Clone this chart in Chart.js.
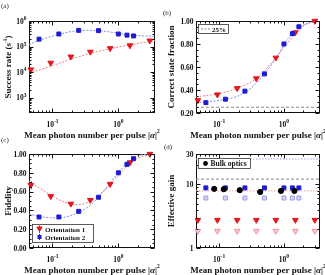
<!DOCTYPE html>
<html lang="en">
<head>
<meta charset="UTF-8">
<title>Photon number scan</title>
<script src="https://cdn.jsdelivr.net/npm/chart.js@4.4.1/dist/chart.umd.min.js"></script>
<style>
  body { margin: 0; background: #fff; }
  #fig { position: relative; width: 325px; height: 275px; overflow: hidden; }
  #fig canvas { position: absolute; }
  .tag { position: absolute; font: 7px "Liberation Serif", serif; line-height: 7px; color: #222; }
</style>
</head>
<body>
<div id="fig">
  <canvas id="pa" width="162" height="140" style="left:0;top:0"></canvas>
  <canvas id="pb" width="163" height="140" style="left:162px;top:0"></canvas>
  <canvas id="pc" width="162" height="135" style="left:0;top:140px"></canvas>
  <canvas id="pd" width="163" height="135" style="left:162px;top:140px"></canvas>
  <div class="tag" style="left:1px;top:3px">(a)</div>
  <div class="tag" style="left:163px;top:10px">(b)</div>
  <div class="tag" style="left:1px;top:137px">(c)</div>
  <div class="tag" style="left:164px;top:144px">(d)</div>
</div>
<script>
// mean photon number of each run
const xRed  = [0.047, 0.094, 0.19, 0.375, 0.75, 1.5, 3.0];
const xBlue = [0.0625, 0.125, 0.25, 0.5, 1.0, 1.35, 1.7];
const xBulk = [0.084, 0.118, 0.208, 0.43, 0.9, 1.45];

// (a) success rate (s^-1)
const rateRed  = [1.25e4, 2.3e4, 4.0e4, 6.2e4, 8.5e4, 1.1e5, 1.7e5];
const rateBlue = [1.95e5, 3.1e5, 4.3e5, 4.2e5, 3.1e5, 2.8e5, 2.6e5];
const rateRedFitX  = [0.044, 0.1, 0.2, 0.4, 0.8, 1.6, 3.6];
const rateRedFitY  = [9e3, 1.8e4, 3.3e4, 5.6e4, 8.5e4, 1.2e5, 1.75e5];
const rateBlueFitX = [0.044, 0.07, 0.12, 0.2, 0.35, 0.6, 1.0, 1.7, 3.6];
const rateBlueFitY = [1.2e5, 1.9e5, 2.9e5, 3.9e5, 4.3e5, 4.0e5, 3.3e5, 2.75e5, 2.5e5];

// (b) correct state fraction
const fracRed  = [0.31, 0.36, 0.415, 0.50, 0.68, 0.90, 1.00];
const fracBlue = [0.29, 0.32, 0.39, 0.54, 0.80, 0.89, 0.95];
const fracRedFitX  = [0.044, 0.1, 0.2, 0.375, 0.7, 1.0, 1.5, 2.2, 3.6];
const fracRedFitY  = [0.34, 0.37, 0.42, 0.50, 0.66, 0.77, 0.89, 0.97, 1.0];
const fracBlueFitX = [0.044, 0.1, 0.2, 0.3, 0.5, 0.8, 1.2, 1.8, 2.6, 3.6];
const fracBlueFitY = [0.29, 0.31, 0.35, 0.41, 0.54, 0.70, 0.86, 0.95, 0.99, 1.0];
const chanceLevel = 0.25;

// (c) fidelity
const fidRed  = [0.67, 0.55, 0.47, 0.51, 0.68, 0.91, 1.00];
const fidRedErr  = [0.04, 0.02, 0.02, 0.02, 0.02, 0.02, 0.01];
const fidBlue = [0.33, 0.33, 0.39, 0.54, 0.80, 0.89, 0.95];
const fidBlueErr = [0.01, 0.01, 0.01, 0.01, 0.01, 0.01, 0.01];
const fidRedFitX  = [0.044, 0.07, 0.1, 0.15, 0.22, 0.3, 0.45, 0.7, 1.0, 1.5, 2.2, 3.6];
const fidRedFitY  = [0.71, 0.62, 0.55, 0.49, 0.46, 0.47, 0.53, 0.65, 0.77, 0.90, 0.97, 1.0];
const fidBlueFitX = [0.044, 0.07, 0.12, 0.18, 0.25, 0.4, 0.6, 1.0, 1.5, 2.2, 3.6];
const fidBlueFitY = [0.36, 0.33, 0.32, 0.34, 0.38, 0.47, 0.61, 0.80, 0.93, 0.99, 1.0];

// (d) effective gain
const gainBlue      = [8.8, 8.8, 8.8, 8.8, 8.8, 8.8, 8.8];
const gainBlueLight = [6.1, 6.1, 6.1, 6.1, 6.1, 6.1, 6.1];
const gainRed       = [2.75, 2.75, 2.75, 2.75, 2.75, 2.75, 2.75];
const gainRedLight  = [1.85, 1.85, 1.85, 1.85, 1.85, 1.85, 1.85];
const gainBulk      = [8.5, 8.4, 8.1, 7.6, 7.9, 7.9];
const gainLineBlue = 25, gainLineGrey = 12.1, gainLineRed = 7.9;

// axes
const X_MIN = 0.044, X_MAX = 3.6;
const xTicks = [0.1, 1];
const xMinor = [0.05, 0.06, 0.07, 0.08, 0.09, 0.2, 0.3, 0.4, 0.5, 0.6, 0.7, 0.8, 0.9, 2, 3];
const rateTicks = [1e3, 1e4, 1e5, 1e6];
const fracTicks = [0.2, 0.4, 0.6, 0.8, 1.0];
const fidTicks  = [0, 0.2, 0.4, 0.6, 0.8, 1.0];
const gainTicks = [1, 10, 30];

const RED = '#e5161e', BLUE = '#1c1cd4', INK = '#111';
const RED_FIT = '#ef7d7d', BLUE_FIT = '#8787ee';
const SERIF = '"Liberation Serif", "DejaVu Serif", serif';
const B75 = 'bold 7.5px ' + SERIF, B9 = 'bold 9px ' + SERIF, SUP = 'bold 5.5px ' + SERIF;
const I9 = 'italic bold 9px ' + SERIF, B7 = 'bold 7px ' + SERIF;

function logMinor(lo, hi) {
  const out = [];
  for (let k = Math.floor(Math.log10(lo)); k <= Math.ceil(Math.log10(hi)); k++)
    for (let m = 2; m <= 9; m++) { const v = m * Math.pow(10, k); if (v > lo && v < hi) out.push(v); }
  return out;
}
function linMinor(lo, hi, step) {
  const out = [];
  for (let v = lo + step; v < hi - 1e-9; v += step) out.push(v);
  return out;
}

function rich(ctx, parts, x, y, align) {
  let w = 0;
  for (const p of parts) { ctx.font = p[1]; w += ctx.measureText(p[0]).width; }
  let cx = align === 'center' ? x - w / 2 : align === 'right' ? x - w : x;
  ctx.textAlign = 'left';
  ctx.textBaseline = 'alphabetic';
  for (const p of parts) {
    ctx.font = p[1];
    ctx.fillText(p[0], cx, y + (p[2] || 0));
    cx += ctx.measureText(p[0]).width;
  }
}
const pow10 = v => [['10', B75], [String(Math.round(Math.log10(v))), SUP, -3.5]];

function tri(ctx, x, y, r, fill, stroke) {
  ctx.beginPath();
  ctx.moveTo(x - r * 0.866, y - r * 0.5);
  ctx.lineTo(x + r * 0.866, y - r * 0.5);
  ctx.lineTo(x, y + r);
  ctx.closePath();
  ctx.fillStyle = fill; ctx.fill();
  ctx.strokeStyle = stroke; ctx.stroke();
}
function box(ctx, x, y, w, h) {
  ctx.fillStyle = '#fff';
  ctx.fillRect(x, y, w, h);
  ctx.strokeStyle = '#333';
  ctx.lineWidth = 0.8;
  ctx.strokeRect(x, y, w, h);
  ctx.lineWidth = 1;
}

const panels = {
  pa: {
    pad: { left: 29, top: 21, right: 7, bottom: 27 },
    y: { type: 'logarithmic', min: 250, max: 1e6 },
    yTicks: rateTicks, yMinor: logMinor(250, 1e6),
    yLabel: v => pow10(v),
    yTitle: [['Success rate (s', B9], ['-1', SUP, -4], [')', B9]], yTitleX: 11
  },
  pb: {
    pad: { left: 34, top: 21, right: 5, bottom: 27 },
    y: { type: 'linear', min: 0.2, max: 1.0 },
    yTicks: fracTicks, yMinor: linMinor(0.2, 1.0, 0.05),
    yLabel: v => [[v.toFixed(2), B75]],
    yTitle: [['Correct state fraction', B9]], yTitleX: 12,
    legend(ctx) {
      box(ctx, 36.5, 24.5, 30, 9);
      ctx.save();
      ctx.strokeStyle = '#888'; ctx.setLineDash([2, 1.5]);
      ctx.beginPath(); ctx.moveTo(39, 29); ctx.lineTo(48, 29); ctx.stroke();
      ctx.restore();
      ctx.fillStyle = INK;
      rich(ctx, [['25%', B7]], 50, 31.5, 'left');
    }
  },
  pc: {
    pad: { left: 29, top: 14, right: 7, bottom: 27 },
    y: { type: 'linear', min: 0, max: 1.0 },
    yTicks: fidTicks, yMinor: linMinor(0, 1.0, 0.05),
    yLabel: v => [[v.toFixed(2), B75]],
    yTitle: [['Fidelity', B9]], yTitleX: 11,
    legend(ctx) {
      box(ctx, 32.5, 84.5, 61, 18);
      ctx.strokeStyle = RED;
      ctx.beginPath(); ctx.moveTo(39.5, 85.5); ctx.lineTo(39.5, 93); ctx.stroke();
      tri(ctx, 39.5, 88.5, 3, RED, RED);
      ctx.strokeStyle = BLUE;
      ctx.beginPath(); ctx.moveTo(39.5, 94); ctx.lineTo(39.5, 100); ctx.stroke();
      ctx.fillStyle = BLUE; ctx.fillRect(37.5, 95, 4, 4);
      ctx.fillStyle = INK;
      rich(ctx, [['Orientation 1', B7]], 45, 91.5, 'left');
      rich(ctx, [['Orientation 2', B7]], 45, 99.5, 'left');
    }
  },
  pd: {
    pad: { left: 34, top: 14, right: 5, bottom: 27 },
    y: { type: 'logarithmic', min: 1, max: 30 },
    yTicks: gainTicks, yMinor: logMinor(1, 30),
    yLabel: v => [[String(v), B75]],
    yTitle: [['Effective gain', B9]], yTitleX: 12,
    legend(ctx) {
      box(ctx, 36.5, 18.5, 52, 10);
      ctx.fillStyle = '#000';
      ctx.beginPath(); ctx.arc(43.5, 23.5, 2.4, 0, Math.PI * 2); ctx.fill();
      ctx.fillStyle = INK;
      rich(ctx, [['Bulk optics', 'bold 7.5px ' + SERIF]], 48.5, 26.2, 'left');
    }
  }
};

const deco = {
  id: 'deco',
  beforeDatasetsDraw(chart) {
    const { ctx, chartArea: ca } = chart;
    ctx.save();
    ctx.strokeStyle = INK;
    ctx.lineWidth = 1;
    const L = Math.round(ca.left) + 0.5, R = Math.round(ca.right) - 0.5;
    const T = Math.round(ca.top) + 0.5, B = Math.round(ca.bottom) - 0.5;
    ctx.strokeRect(L, T, R - L, B - T);
    // error bars
    chart.data.datasets.forEach((ds, i) => {
      if (!ds.errs) return;
      const meta = chart.getDatasetMeta(i);
      ctx.strokeStyle = ds.pointBorderColor;
      ctx.beginPath();
      meta.data.forEach((pt, j) => {
        const v = ds.data[j].y, e = ds.errs[j];
        const x = Math.round(pt.x) + 0.5;
        ctx.moveTo(x, chart.scales.y.getPixelForValue(v + e));
        ctx.lineTo(x, chart.scales.y.getPixelForValue(v - e));
      });
      ctx.stroke();
    });
    ctx.restore();
  },
  afterDraw(chart) {
    const cfg = panels[chart.canvas.id];
    const { ctx, chartArea: ca, scales: { x, y } } = chart;
    const L = Math.round(ca.left) + 0.5, R = Math.round(ca.right) - 0.5;
    const T = Math.round(ca.top) + 0.5, B = Math.round(ca.bottom) - 0.5;
    ctx.save();
    ctx.strokeStyle = INK;
    ctx.lineWidth = 1;
    ctx.beginPath();
    const tickX = (vals, len) => vals.forEach(v => {
      const p = Math.round(x.getPixelForValue(v)) + 0.5;
      if (p < L || p > R) return;
      ctx.moveTo(p, B); ctx.lineTo(p, B - len);
      ctx.moveTo(p, T); ctx.lineTo(p, T + len);
    });
    const tickY = (vals, len) => vals.forEach(v => {
      const p = Math.round(y.getPixelForValue(v)) + 0.5;
      ctx.moveTo(L, p); ctx.lineTo(L + len, p);
      ctx.moveTo(R, p); ctx.lineTo(R - len, p);
    });
    tickX(xTicks, 4); tickX(xMinor, 2);
    tickY(cfg.yTicks, 4); tickY(cfg.yMinor, 2);
    ctx.stroke();

    ctx.fillStyle = INK;
    xTicks.forEach(v => rich(ctx, pow10(v), x.getPixelForValue(v), B + 14, 'center'));
    cfg.yTicks.forEach(v => rich(ctx, cfg.yLabel(v), ca.left - 2.5, y.getPixelForValue(v) + 2.7, 'right'));

    rich(ctx, [['Mean photon number per pulse |', B9], ['\u03b1', I9], ['|', B9], ['2', SUP, -4.5]],
      (ca.left + ca.right) / 2, B + 25, 'center');

    ctx.save();
    ctx.translate(cfg.yTitleX, (ca.top + ca.bottom) / 2);
    ctx.rotate(-Math.PI / 2);
    rich(ctx, cfg.yTitle, 0, 0, 'center');
    ctx.restore();

    if (cfg.legend) cfg.legend(ctx);
    ctx.restore();
  }
};

const pts = (xs, ys) => xs.map((v, i) => ({ x: v, y: ys[i] }));
function marks(xs, ys, o) {
  return Object.assign({
    data: pts(xs, ys), showLine: false, clip: false, order: 0,
    pointRadius: 3, pointBorderWidth: 1
  }, o);
}
const redTri = { pointStyle: 'triangle', pointRotation: 180, pointRadius: 3.3, pointBackgroundColor: RED, pointBorderColor: RED };
const blueSq = { pointStyle: 'rect', pointRadius: 2.8, pointBackgroundColor: BLUE, pointBorderColor: BLUE };
function curve(xs, ys, color, dash) {
  return {
    data: pts(xs, ys), showLine: true, pointRadius: 0, borderColor: color,
    borderWidth: 1, borderDash: dash || [2, 1.5], cubicInterpolationMode: 'monotone', order: 1
  };
}
const hline = (v, color, dash) => curve([X_MIN, X_MAX], [v, v], color, dash);

function makeChart(id, datasets) {
  const p = panels[id];
  return new Chart(document.getElementById(id), {
    type: 'scatter',
    data: { datasets },
    options: {
      responsive: false,
      animation: false,
      events: [],
      layout: { padding: p.pad },
      plugins: { legend: { display: false }, tooltip: { enabled: false } },
      scales: {
        x: { type: 'logarithmic', min: X_MIN, max: X_MAX, display: false },
        y: Object.assign({ display: false }, p.y)
      }
    },
    plugins: [deco]
  });
}

makeChart('pa', [
  marks(xBlue, rateBlue, blueSq),
  marks(xRed, rateRed, redTri),
  curve(rateBlueFitX, rateBlueFitY, BLUE_FIT),
  curve(rateRedFitX, rateRedFitY, RED_FIT)
]);

makeChart('pb', [
  marks(xBlue, fracBlue, blueSq),
  marks(xRed, fracRed, redTri),
  curve(fracBlueFitX, fracBlueFitY, BLUE_FIT),
  curve(fracRedFitX, fracRedFitY, RED_FIT),
  hline(chanceLevel, '#8a8a8a', [3, 2])
]);

makeChart('pc', [
  marks(xBlue, fidBlue, Object.assign({ errs: fidBlueErr }, blueSq)),
  marks(xRed, fidRed, Object.assign({ errs: fidRedErr }, redTri)),
  curve(fidBlueFitX, fidBlueFitY, BLUE_FIT),
  curve(fidRedFitX, fidRedFitY, RED_FIT)
]);

makeChart('pd', [
  marks(xBulk, gainBulk, { pointStyle: 'circle', pointRadius: 2.6, pointBackgroundColor: '#000', pointBorderColor: '#000' }),
  marks(xBlue, gainBlue, blueSq),
  marks(xBlue, gainBlueLight, { pointStyle: 'rect', pointRadius: 2.8, pointBackgroundColor: '#d4d4f6', pointBorderColor: '#9c9cea' }),
  marks(xRed, gainRed, redTri),
  marks(xRed, gainRedLight, { pointStyle: 'triangle', pointRotation: 180, pointRadius: 3.3, pointBackgroundColor: '#f9cdd2', pointBorderColor: '#f0919b' }),
  hline(gainLineBlue, '#a9a9f2', [1.5, 1.5]),
  hline(gainLineGrey, '#8a8a8a', [3, 2]),
  hline(gainLineRed, '#f2a0a0', [1.5, 1.5])
]);
</script>
</body>
</html>
